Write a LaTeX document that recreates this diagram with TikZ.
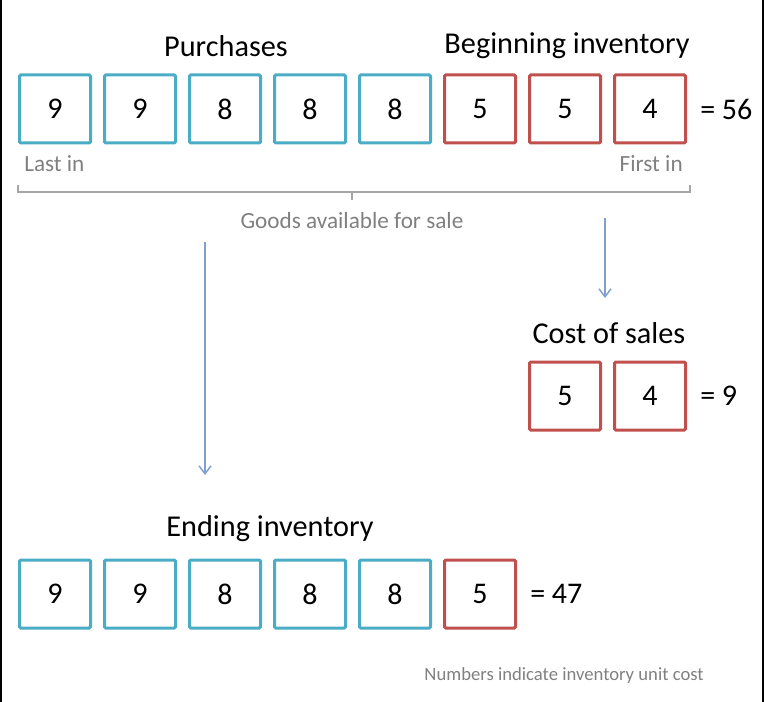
\documentclass[tikz,border=0pt]{standalone}
\usepackage{fontspec}
\setmainfont{Carlito}
\usetikzlibrary{arrows.meta}

\definecolor{newblue}{HTML}{4BACC6}
\definecolor{oldred}{HTML}{C0504D}
\definecolor{flowblue}{HTML}{7F9FCF}
\definecolor{notegray}{HTML}{808080}
\definecolor{bracegray}{HTML}{A6A6A6}

\begin{document}
\begin{tikzpicture}[x=0.75pt, y=-0.75pt,
    unit/.style={rectangle, draw, line width=2.25pt, rounded corners=1pt, minimum width=53.25pt, minimum height=51pt, inner sep=0pt, font=\fontsize{22.5}{26}\selectfont},
    new/.style={unit, draw=newblue},
    old/.style={unit, draw=oldred},
    title/.style={font=\fontsize{22.7}{26}\selectfont},
    total/.style={anchor=west, inner sep=0pt, font=\fontsize{22.5}{26}\selectfont},
    note/.style={text=notegray, inner sep=0pt, font=\fontsize{17.4}{20}\selectfont},
    flow/.style={flowblue, line width=1.1pt, -{Straight Barb[length=6pt, width=9pt]}}]
    \useasboundingbox (0,0) rectangle (764,702);
    \fill (0,0) rectangle (2,702);
    \fill (762,0) rectangle (764,702);

    % goods available for sale
    \node[title] (pur) at (226,46) {Purchases};
    \node[title] (beg) at (567,46) {Beginning inventory};
    \node[new] (p1) at (55,109) {9};
    \node[new] (p2) at (140,109) {9};
    \node[new] (p3) at (225,109) {8};
    \node[new] (p4) at (310,109) {8};
    \node[new] (p5) at (395,109) {8};
    \node[old] (i1) at (480,109) {5};
    \node[old] (i2) at (565,109) {5};
    \node[old] (i3) at (650,109) {4};
    \node[total] (sum1) at (700,109) {= 56};
    \node[note, anchor=west] (last) at (24,164) {Last in};
    \node[note, anchor=east] (first) at (683,164) {First in};

    \draw[bracegray, line width=1.5pt] (18,185) -- (18,192) -- (690,192) -- (690,185);
    \draw[bracegray, line width=1.5pt] (352,192) -- (352,200);
    \node[note] (goods) at (352,221) {Goods available for sale};

    \coordinate (fl1) at (205,242);
    \coordinate (fl2) at (205,475);
    \coordinate (fr1) at (605,218);
    \coordinate (fr2) at (605,298);
    \draw[flow] (fl1) -- (fl2);
    \draw[flow] (fr1) -- (fr2);

    % cost of sales
    \node[title] (cos) at (609,333) {Cost of sales};
    \node[old] (c1) at (565,396) {5};
    \node[old] (c2) at (650,396) {4};
    \node[total] (sum2) at (700,396) {= 9};

    % ending inventory
    \node[title] (end) at (270,529) {Ending inventory};
    \node[new] (e1) at (55,594) {9};
    \node[new] (e2) at (140,594) {9};
    \node[new] (e3) at (225,594) {8};
    \node[new] (e4) at (310,594) {8};
    \node[new] (e5) at (395,594) {8};
    \node[old] (e6) at (480,594) {5};
    \node[total] (sum3) at (530,594) {= 47};

    \node[note, anchor=east, font=\fontsize{14}{17}\selectfont] (fn) at (704,676) {Numbers indicate inventory unit cost};
\end{tikzpicture}
\end{document}
